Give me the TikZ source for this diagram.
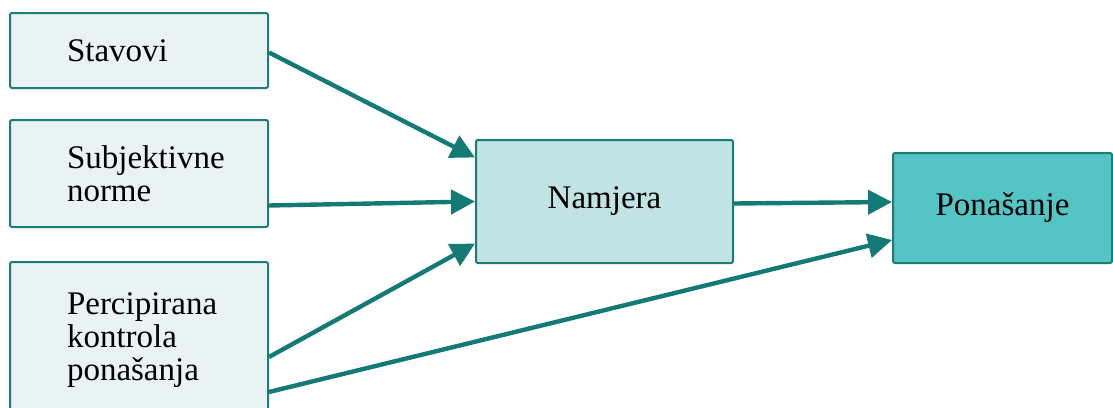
\documentclass[tikz,border=0pt]{standalone}
\usepackage{fontspec}
\setmainfont{Liberation Serif}
\usepackage{tikz}
\usetikzlibrary{arrows.meta}
\definecolor{boxline}{HTML}{1B7C78}
\definecolor{arrowteal}{HTML}{137A76}
\definecolor{lightfill}{HTML}{EAF3F4}
\definecolor{midfill}{HTML}{C2E3E4}
\definecolor{darkfill}{HTML}{54C4C4}
\tikzset{
  factor/.style={draw=boxline, line width=1pt, rounded corners=1pt, fill=lightfill,
    minimum width=129pt, text width=72pt, align=left, inner xsep=0pt,
    font=\fontsize{16.5}{16.5}\selectfont},
  outcome/.style={draw=boxline, line width=1pt, rounded corners=1pt,
    font=\fontsize{16.5}{16.5}\selectfont},
  link/.style={draw=arrowteal, line width=2.2pt, -{Triangle[length=12pt,width=12pt]}}
}

\begin{document}
\begin{tikzpicture}[x=0.5pt,y=-0.5pt]
\useasboundingbox (0,0) rectangle (1113,407);
\node[factor, minimum height=37.5pt] (stav) at (139,50.5) {Stavovi};
\node[factor, minimum height=53.5pt] (subj) at (139,173.5) {Subjektivne\\norme};
\node[factor, minimum height=78pt] (perc) at (139,340) {Percipirana\\kontrola\\ponašanja};
\node[outcome, fill=midfill, minimum width=128.5pt, minimum height=61.5pt] (nam) at (604.5,201.5) {Namjera};
\node[outcome, fill=darkfill, minimum width=109.5pt, minimum height=55pt] (pon) at (1002.5,208) {Ponašanje};

\draw[link] ([yshift=-1pt]stav.east) -- ([yshift=22pt]nam.west);
\draw[link] ([yshift=-16pt]subj.east) -- (nam.west);
\draw[link] ([yshift=-8.5pt]perc.east) -- ([yshift=-21pt]nam.west);
\draw[link] ([yshift=-1pt]nam.east) -- ([yshift=3pt]pon.west);
\draw[link] ([yshift=-26pt]perc.east) -- ([yshift=-16pt]pon.west);
\end{tikzpicture}
\end{document}
